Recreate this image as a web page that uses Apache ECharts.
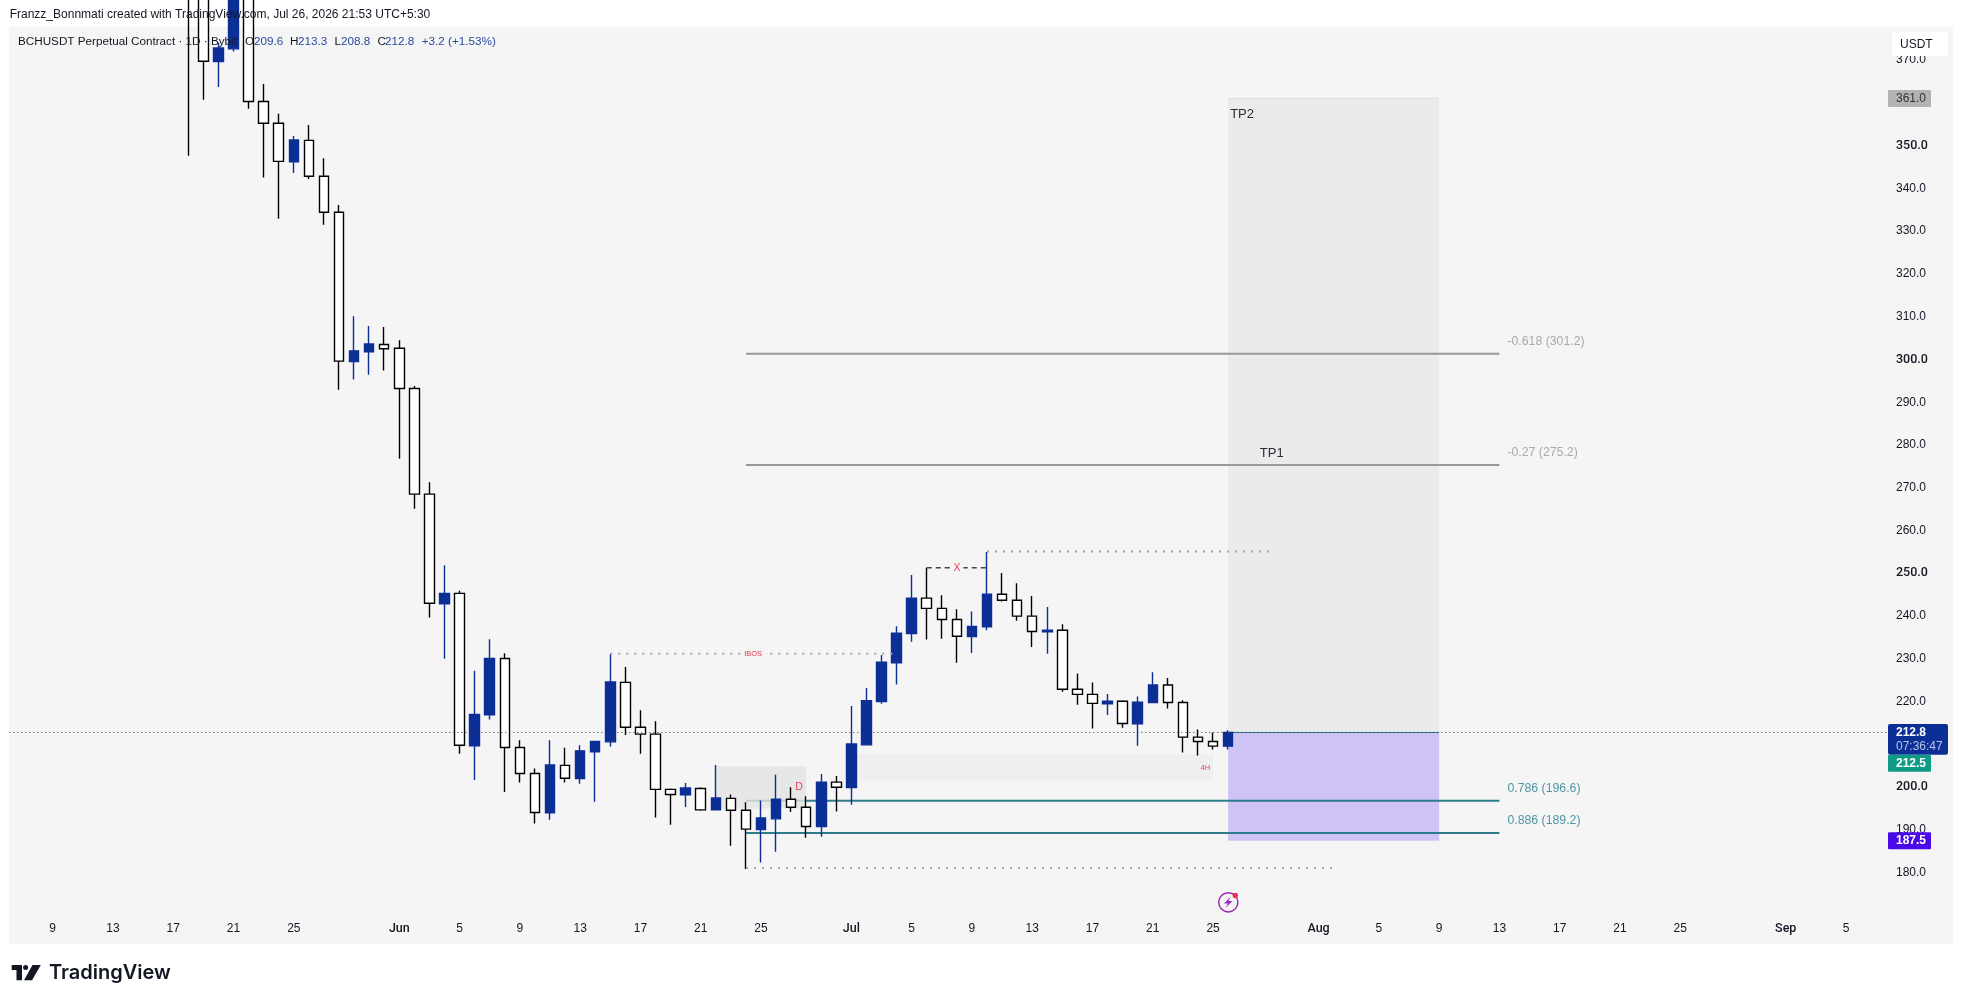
<!DOCTYPE html>
<html><head><meta charset="utf-8">
<style>html,body{margin:0;padding:0;background:#fff}#c{width:1963px;height:1003px}</style>
<script src="https://cdn.jsdelivr.net/npm/echarts@6/dist/echarts.min.js"></script>
</head><body><div id="c"></div>
<script>
// ---------- data ----------
const dates = ['05-18','05-19','05-20','05-21','05-22','05-23','05-24','05-25','05-26','05-27','05-28','05-29','05-30','05-31',
'06-01','06-02','06-03','06-04','06-05','06-06','06-07','06-08','06-09','06-10','06-11','06-12','06-13','06-14','06-15','06-16','06-17','06-18','06-19','06-20','06-21','06-22','06-23','06-24','06-25','06-26','06-27','06-28','06-29','06-30',
'07-01','07-02','07-03','07-04','07-05','07-06','07-07','07-08','07-09','07-10','07-11','07-12','07-13','07-14','07-15','07-16','07-17','07-18','07-19','07-20','07-21','07-22','07-23','07-24','07-25','07-26'];
const opens = [395,385,369.6,372.6,392,360.3,355.2,346.2,351.2,342.8,334.4,299.5,301.8,303.5,
302.6,293.2,268.5,242.9,245.3,209.7,216.9,230.1,209.3,203.2,194.0,205.1,202.0,208.3,210.6,224.5,214.0,212.4,199.5,198.2,199.7,194.7,197.4,194.6,190.1,192.6,197.2,195.3,190.8,201.2,
199.9,209.9,220.0,229.1,235.9,244.2,241.8,239.2,235.2,237.5,245.1,243.7,240.0,236.3,236.7,222.9,221.7,219.5,220.1,214.8,219.8,223.9,219.8,211.7,210.7,209.6];
const closes = [385,369.7,372.8,385,360.3,355.2,346.3,351.3,342.8,334.4,299.6,302.0,303.6,302.5,
293.2,268.5,243.0,245.3,209.8,217.0,230.1,209.3,203.2,194.1,205.2,202.1,208.5,210.7,224.6,214.0,212.4,199.5,198.3,199.8,194.7,197.5,194.6,190.2,192.8,197.2,195.3,190.8,201.2,200.0,
210.1,220.2,229.2,236.0,244.2,241.8,239.2,235.3,237.6,245.1,243.7,240.0,236.4,236.7,222.9,221.7,219.6,220.1,214.9,219.9,223.9,219.8,211.7,210.7,209.6,212.8];
const highs = [400,390,374,390,395,364.4,357.4,352.2,354.8,347.0,336.1,310.1,307.8,307.6,
304.5,293.8,271.3,251.9,245.9,227.2,234.6,231.3,211.0,204.4,211.0,209.2,209.8,210.7,231.2,228.1,218.0,215.4,199.7,201.0,200.0,205.2,198.3,196.5,196.9,202.9,200.0,197.9,203.1,202.6,
219.0,223.2,230.9,237.6,249.6,251.3,244.9,241.6,241.1,255.0,250.1,247.7,244.7,242.1,238.1,226.6,224.5,221.8,220.3,221.2,226.9,225.5,220.3,213.5,212.8,213.3];
const lows = [347.6,360.7,363.7,372,358.6,342.5,332.9,343.6,342.2,331.5,292.9,295.3,296.4,297.4,
276.8,265.1,239.7,230.0,207.8,201.7,215.8,198.9,201.1,191.5,192.4,201.1,200.8,196.6,209.5,212.2,207.8,192.9,191.2,195.4,194.5,194.7,186.3,180.9,182.4,184.9,194.2,188.2,188.4,194.3,
195.9,209.9,219.5,224.0,234.0,234.5,234.7,229.1,231.4,236.7,243.4,238.9,232.8,231.2,222.3,219.3,213.7,216.9,213.9,209.7,219.8,218.4,208.1,207.4,208.8,208.8];

const xTickDates  = ['05-09','05-13','05-17','05-21','05-25','06-01','06-05','06-09','06-13','06-17','06-21','06-25','07-01','07-05','07-09','07-13','07-17','07-21','07-25','08-01','08-05','08-09','08-13','08-17','08-21','08-25','09-01','09-05'];
const xTickLabels = ['9','13','17','21','25','Jun','5','9','13','17','21','25','Jul','5','9','13','17','21','25','Aug','5','9','13','17','21','25','Sep','5'];
const yTicks = [180,190,200,210,220,230,240,250,260,270,280,290,300,310,320,330,340,350,360,370];

const fibValues = [301.3,275.3,196.85,189.3];
const fibStart = '06-24', fibEnd = '08-13';
const currentPrice = 212.8;
const targetHigh = 361, stopLow = 187.5, boxStart = '07-26', boxEnd = '08-09';
const dZone = ['06-22','06-28',204.9,195.0];
const h4Zone = ['07-01','07-25',207.7,201.5];
const bosLevel = ['06-15','07-04',231.2];
const highLevel = ['07-10','07-29',255.1];
const lowLevel = ['06-24','08-02',181.1];
const xLevel = ['07-06','07-10',251.3];

const tagValues = [361,212.8,212.5,187.5];
const tagTexts = ['361.0','212.8','212.5','187.5'];
const countdown = '07:36:47';

// ---------- helpers ----------
const day = s => { const [m,d] = s.split('-').map(Number); return (Date.UTC(2026,m-1,d)-Date.UTC(2026,4,9))/864e5; };
const FONT = '"Liberation Sans", Arial, sans-serif';
const xMin = -2.88, xMax = 126.1, yMin = 163.35, yMax = 377.82;
const PRICE_LINE_END = 121.8;
const PANE = '#f5f5f5';

const candleData = dates.map((d,i)=>[day(d),opens[i],closes[i],lows[i],highs[i]]);
const tickLabelOf = {}; xTickDates.forEach((d,i)=>tickLabelOf[day(d)] = xTickLabels[i]);

function line(x1,x2,v,color,width,type,z){
  return {type:'line',data:[[x1,v],[x2,v]],showSymbol:false,symbol:'none',silent:true,animation:false,z,
    lineStyle:{color,width,type,cap:'butt'},itemStyle:{color}};
}
function zoneSeries(list,z){
  return {type:'custom',z,silent:true,animation:false,clip:true,
    data:list.map(a=>[day(a[0]),day(a[1]),a[2],a[3]]),
    encode:{x:[0,1],y:[2,3]},
    renderItem(params,api){
      const p1=api.coord([api.value(0),api.value(2)]), p2=api.coord([api.value(1),api.value(3)]);
      return {type:'rect',shape:{x:p1[0],y:p1[1],width:p2[0]-p1[0],height:p2[1]-p1[1]},style:{fill:list[params.dataIndex][4]}};
    }};
}

// annotation labels, anchored on day / price
const notes = [
 {t:'-0.618 (301.2)',d:fibEnd,v:fibValues[0],dx:8,dy:-12.6,c:'#a9a9a9',s:12.3,a:'left'},
 {t:'-0.27 (275.2)',d:fibEnd,v:fibValues[1],dx:8,dy:-12.8,c:'#a9a9a9',s:12.3,a:'left'},
 {t:'0.786 (196.6)',d:fibEnd,v:fibValues[2],dx:8,dy:-12,c:'#4d97a3',s:12.3,a:'left'},
 {t:'0.886 (189.2)',d:fibEnd,v:fibValues[3],dx:8,dy:-12.7,c:'#4d97a3',s:12.3,a:'left'},
 {t:'TP2',d:boxStart,v:targetHigh,dx:2,dy:16,c:'#2a2e39',s:13,a:'left'},
 {t:'TP1',d:'07-28',v:fibValues[1],dx:1.5,dy:-12,c:'#2a2e39',s:13,a:'left'},
 {t:'IBOS',d:'06-24',v:bosLevel[2],dx:7.2,dy:0,c:'#e8304a',s:7.5,a:'center',bg:1},
 {t:'X',d:'07-08',v:xLevel[2],dx:0,dy:0,c:'#e5455a',s:10.5,a:'center',bg:1},
 {t:'D',d:'06-27',v:200,dx:8,dy:0,c:'#e5455a',s:10.5,a:'center'},
 {t:'4H',d:'07-25',v:204.6,dx:-3,dy:0,c:'#e8405a',s:7.5,a:'right'}
];

const tfont = (s,w) => (w||'normal')+' '+s+'px '+FONT;
const hdr = (text,x,y,fill,size,extra) => Object.assign({type:'text',z:100,silent:true,x,y,style:{text,fill,font:tfont(size||12),verticalAlign:'middle'}},extra||{});

const valueColor = '#2a4a9e';
const graphics = [
  hdr('Franzz_Bonnmati created with TradingView.com, Jul 26, 2026 21:53 UTC+5:30',9.7,14.7,'#131722'),
  hdr('BCHUSDT Perpetual Contract · 1D · Bybit',18,41.7,'#131722',11.7),
  hdr('O',245,41.7,'#131722',11.7),hdr('209.6',254,41.7,valueColor,11.7),
  hdr('H',290,41.7,'#131722',11.7),hdr('213.3',298,41.7,valueColor,11.7),
  hdr('L',334.6,41.7,'#131722',11.7),hdr('208.8',341,41.7,valueColor,11.7),
  hdr('C',377.5,41.7,'#131722',11.7),hdr('212.8',385,41.7,valueColor,11.7),
  hdr('+3.2 (+1.53%)',421.7,41.7,valueColor,11.7),
  {type:'rect',z:100,silent:true,shape:{x:1892,y:32,width:56,height:24,r:3},style:{fill:'#fff'}},
  hdr('USDT',1900,44.3,'#131722'),
  // TradingView logo
  {type:'polygon',z:100,silent:true,shape:{points:[[11.7,965],[22,965],[22,980.3],[16.5,980.3],[16.5,970],[11.7,970]]},style:{fill:'#131722'}},
  {type:'circle',z:100,silent:true,shape:{cx:25.6,cy:967.5,r:2.5},style:{fill:'#131722'}},
  {type:'polygon',z:100,silent:true,shape:{points:[[32.5,965],[40.8,965],[32,980.3],[24,980.3]]},style:{fill:'#131722'}},
  {type:'text',z:100,silent:true,x:49,y:973,style:{text:'TradingView',fill:'#131722',font:'600 20px Inter, '+FONT,verticalAlign:'middle'}},
  // alert icon
  {type:'circle',z:100,silent:true,shape:{cx:1228.3,cy:902.3,r:9.6},style:{fill:'none',stroke:'#9c2bb5',lineWidth:1.5}},
  {type:'polygon',z:100,silent:true,shape:{points:[[1231,896.5],[1224,903.5],[1228,903.5],[1225.5,908],[1232.5,901],[1228.5,901]]},style:{fill:'#9c2bb5'}},
  {type:'circle',z:100,silent:true,shape:{cx:1235.3,cy:895.5,r:2.7},style:{fill:'#e5354b'}}
];

const option = {
  animation:false,
  backgroundColor:'#ffffff',
  textStyle:{fontFamily:FONT},
  grid:{left:9.3,top:26.5,width:1943.7,height:917.5,show:true,backgroundColor:PANE,borderWidth:0},
  xAxis:{type:'value',min:xMin,max:xMax,position:'bottom',
    axisLine:{show:false},axisTick:{show:false},splitLine:{show:false},
    axisLabel:{inside:true,margin:15,color:'#131722',fontSize:12,fontFamily:FONT,verticalAlign:'middle',
      customValues:xTickDates.map(day),
      formatter:v=>{const t=tickLabelOf[v]; return /[a-z]/i.test(t)?'{m|'+t+'}':t;},
      rich:{m:{fontSize:12.5,fontWeight:500,color:'#131722',fontFamily:'Roboto'}}}},
  yAxis:{type:'value',min:yMin,max:yMax,position:'right',
    axisLine:{show:false},axisTick:{show:false},splitLine:{show:false},
    axisLabel:{inside:true,margin:57,align:'left',color:'#131722',fontSize:12,fontFamily:FONT,
      customValues:yTicks,
      formatter:v=>v%50===0?'{b|'+v.toFixed(1)+'}':v.toFixed(1),
      rich:{b:{fontSize:12.5,fontWeight:500,color:'#131722',fontFamily:'Roboto'}}}},
  graphic:{elements:graphics},
  series:[
    zoneSeries([[boxStart,boxEnd,targetHigh,currentPrice,'#ebebeb'],[boxStart,boxEnd,currentPrice,stopLow,'#cfc2f4']],1),
    line(day(boxStart),day(boxEnd),targetHigh,'#e0e0e0',1,'solid',1),
    line(day(fibStart),day(fibEnd),fibValues[0],'#999999',2,'solid',2),
    line(day(fibStart),day(fibEnd),fibValues[1],'#999999',2,'solid',2),
    line(day(fibStart),day(fibEnd),fibValues[2],'#2e7c8b',2,'solid',2),
    line(day(fibStart),day(fibEnd),fibValues[3],'#2e7c8b',2,'solid',2),
    line(day(boxStart),day(boxEnd),currentPrice,'#2e7c8b',1,'solid',2),
    zoneSeries([[dZone[0],dZone[1],dZone[2],dZone[3],'rgba(228,228,228,0.8)'],[h4Zone[0],h4Zone[1],h4Zone[2],h4Zone[3],'#efefef']],3),
    {type:'candlestick',z:4,silent:true,animation:false,barWidth:10,large:false,
      data:candleData,encode:{x:0,y:[1,2,3,4]},
      itemStyle:{color:'#0c2f96',color0:'#ffffff',borderColor:'#0c2f96',borderColor0:'#000000',borderColorDoji:'#0c2f96',borderWidth:1.4}},
    line(day(bosLevel[0]),day(bosLevel[1]),bosLevel[2],'#a8a8a8',2,[2,6],5),
    line(day(highLevel[0]),day(highLevel[1]),highLevel[2],'#a0a0a0',2,[2,6],5),
    line(day(lowLevel[0]),day(lowLevel[1]),lowLevel[2],'#a8a8a8',2,[2,6],5),
    line(day(xLevel[0]),day(xLevel[1]),xLevel[2],'#444444',1.4,[5,4],5),
    line(xMin,PRICE_LINE_END,currentPrice,'#333333',1,[1,3],5),
    {type:'custom',z:6,silent:true,animation:false,clip:false,
      data:notes.map(n=>[day(n.d),n.v]),encode:{x:0,y:1},
      renderItem(params,api){
        const n=notes[params.dataIndex], p=api.coord([api.value(0),api.value(1)]);
        const st={text:n.t,fill:n.c,font:tfont(n.s),align:n.a,verticalAlign:'middle'};
        if(n.bg){st.backgroundColor=PANE;st.padding=[0,3];}
        return {type:'text',x:p[0]+n.dx,y:p[1]+n.dy,style:st};
      }},
    {type:'custom',z:20,silent:true,animation:false,clip:false,
      data:tagValues.map(v=>[0,v]),encode:{x:0,y:1},
      renderItem(params,api){
        const i=params.dataIndex, y=api.coord([0,api.value(1)])[1];
        const cs=params.coordSys, x=cs.x+cs.width-65;
        const skins=[
          {bg:'#b3b3b3',fg:'#333333',w:43,bold:false},
          {bg:'#0c2f96',fg:'#ffffff',w:60,bold:true,sub:1},
          {bg:'#0f9b85',fg:'#ffffff',w:43,bold:true,shift:29.6},
          {bg:'#4a0ae8',fg:'#ffffff',w:43,bold:true}];
        const s=skins[i], cy=y+(s.shift||0);
        const kids=[{type:'rect',shape:{x,y:cy-8.5,width:s.w,height:s.sub?30.7:17,r:s.sub?2:1},style:{fill:s.bg}},
          {type:'text',x:x+8,y:cy+0.3,style:{text:tagTexts[i],fill:s.fg,font:tfont(12,s.bold?'bold':'normal'),verticalAlign:'middle'}}];
        if(s.sub) kids.push({type:'text',x:x+8,y:cy+14.3,style:{text:countdown,fill:'#b9c4ee',font:tfont(12),verticalAlign:'middle'}});
        return {type:'group',children:kids};
      }}
  ]
};
echarts.init(document.getElementById('c'),null,{renderer:'canvas'}).setOption(option);
</script></body></html>
